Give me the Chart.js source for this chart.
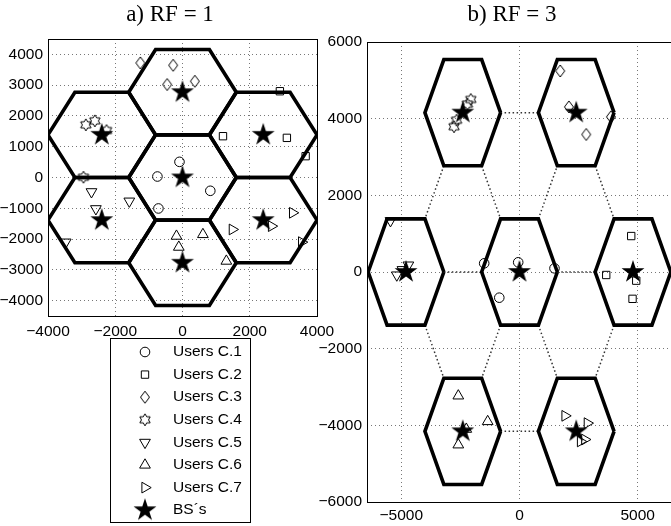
<!DOCTYPE html>
<html>
<head>
<meta charset="utf-8">
<title>RF = 1 / RF = 3</title>
<script src="https://cdn.jsdelivr.net/npm/chart.js@4.4.1/dist/chart.umd.min.js"></script>
<style>
  html, body { margin: 0; padding: 0; background: #fff; }
  body { width: 671px; height: 526px; overflow: hidden; position: relative; }
  canvas { position: absolute; top: 0; }
  #chart-rf1 { left: 0; }
  #chart-rf3 { left: 315px; }
</style>
</head>
<body>
<canvas id="chart-rf1" width="345" height="526"></canvas>
<canvas id="chart-rf3" width="400" height="526"></canvas>
<script>
/* ── data ── */
const legendLabels = ['Users C.1', 'Users C.2', 'Users C.3', 'Users C.4', 'Users C.5', 'Users C.6', 'Users C.7', 'BS\u00B4s'];
const hexRadius = 1600;

// RF = 1 : cell centres (= BS positions), in cluster order C.1 .. C.7
const rf1CellX = [0, 2400, 0, -2400, -2400, 0, 2400];
const rf1CellY = [0, 1386, 2771, 1386, -1386, -2771, -1386];
// RF = 1 : user positions, one row per cluster
const rf1UserX = [
  [-90, -746, 827, -716],
  [2896, 1204, 3104, 3662],
  [-1254, -278, -457, 367],
  [-2875, -2606, -2260, -2946],
  [-2707, -1582, -2576, -3472],
  [-179, 607, -110, 1304],
  [3274, 1482, 2647, 3543]
];
const rf1UserY = [
  [509, 32, -432, -1006],
  [2803, 1342, 1288, 693],
  [3724, 3646, 3020, 3127],
  [1711, 1841, 1526, 10],
  [-465, -769, -1017, -2100],
  [-1905, -1851, -2262, -2716],
  [-1147, -1688, -1580, -2100]
];

// RF = 3 : cell centres, cluster order C.1 .. C.7
const rf3CellX = [0, 4800, 2400, -2400, -4800, -2400, 2400];
const rf3CellY = [0, 0, 4157, 4157, 0, -4157, -4157];
const rf3UserX = [
  [-1494, -55, 1480, -855],
  [4725, 3668, 4937, 4781],
  [1722, 2089, 3866, 2822],
  [-2060, -2200, -2660, -2770],
  [-5457, -5190, -4700, -4950],
  [-2588, -1346, -2588, -2250],
  [1925, 2868, 2580, 2760]
];
const rf3UserY = [
  [226, 253, 96, -670],
  [938, -78, -226, -700],
  [5245, 4307, 4047, 3588],
  [4500, 4380, 3960, 3790],
  [1337, -80, 180, 60],
  [-3231, -3900, -4508, -4100],
  [-3752, -3943, -4420, -4370]
];
// dotted links between cells: [cellA, vertexA, cellB, vertexB]
// vertices: 0 right, 1 top-right, 2 top-left, 3 left, 4 bottom-left, 5 bottom-right
const rf3Links = [
  [0, 0, 1, 3], [4, 0, 0, 3], [3, 0, 2, 3], [5, 0, 6, 3],
  [3, 4, 4, 1], [3, 5, 0, 2], [0, 1, 2, 4], [2, 5, 1, 2],
  [4, 5, 5, 2], [0, 4, 5, 1], [0, 5, 6, 2], [1, 4, 6, 1]
];

// ticks
const rf1XTicks = [-4000, -2000, 0, 2000, 4000];
const rf1YTicks = [-4000, -3000, -2000, -1000, 0, 1000, 2000, 3000, 4000];
const rf3XTicks = [-5000, 0, 5000];
const rf3YTicks = [-6000, -4000, -2000, 0, 2000, 4000, 6000];

const SANS = '"Liberation Sans", Arial, Helvetica, sans-serif';
const SERIF = '"Liberation Serif", "Times New Roman", serif';
const TICK_SIZE = 15.5;

/* ── marker images for shapes Chart.js has no built-in for ── */
function makeMarker(size, draw) {
  const c = document.createElement('canvas');
  c.width = c.height = size;
  const g = c.getContext('2d');
  g.translate(size / 2, size / 2);
  draw(g);
  return c;
}
function starPath(g, n, rOut, rIn) {
  g.beginPath();
  for (let i = 0; i < n * 2; i++) {
    const r = i % 2 ? rIn : rOut;
    const a = -Math.PI / 2 + i * Math.PI / n;
    i ? g.lineTo(r * Math.cos(a), r * Math.sin(a)) : g.moveTo(r * Math.cos(a), r * Math.sin(a));
  }
  g.closePath();
}
const starImg = makeMarker(28, g => { starPath(g, 5, 12, 4.6); g.fillStyle = '#000'; g.fill(); });
const hexagramImg = makeMarker(16, g => { starPath(g, 6, 6, 3.5); g.strokeStyle = '#000'; g.lineWidth = 1; g.stroke(); });
const diamondImg = makeMarker(16, g => {
  g.beginPath(); g.moveTo(0, -6); g.lineTo(4.5, 0); g.lineTo(0, 6); g.lineTo(-4.5, 0); g.closePath();
  g.strokeStyle = '#000'; g.lineWidth = 1; g.stroke();
});

const markerStyles = [
  { style: 'circle', radius: 4.8, rotation: 0 },
  { style: 'rect', radius: 5.2, rotation: 0 },
  { style: diamondImg, radius: 6, rotation: 0 },
  { style: hexagramImg, radius: 6, rotation: 0 },
  { style: 'triangle', radius: 6.2, rotation: 180 },
  { style: 'triangle', radius: 6.2, rotation: 0 },
  { style: 'triangle', radius: 6.2, rotation: 90 },
  { style: starImg, radius: 12, rotation: 0 }
];

/* ── geometry helpers ── */
function hexVertex(cx, cy, k) {
  const h = hexRadius * Math.sqrt(3) / 2;
  const off = [[hexRadius, 0], [hexRadius / 2, h], [-hexRadius / 2, h], [-hexRadius, 0], [-hexRadius / 2, -h], [hexRadius / 2, -h]][k % 6];
  return { x: cx + off[0], y: cy + off[1] };
}
function hexPath(cx, cy) {
  return [0, 1, 2, 3, 4, 5, 6].map(k => hexVertex(cx, cy, k));
}

function buildDatasets(cellX, cellY, userX, userY, links) {
  const sets = [];
  cellX.forEach((cx, i) => sets.push({
    data: hexPath(cx, cellY[i]), showLine: true, pointRadius: 0,
    borderColor: '#000', borderWidth: 3.6, borderJoinStyle: 'miter', tension: 0, order: 2
  }));
  (links || []).forEach(([a, va, b, vb]) => sets.push({
    data: [hexVertex(cellX[a], cellY[a], va), hexVertex(cellX[b], cellY[b], vb)],
    showLine: true, pointRadius: 0, borderColor: '#333', borderWidth: 1.5, borderDash: [1.5, 2.5], order: 3
  }));
  userX.forEach((xs, k) => sets.push({
    label: legendLabels[k],
    data: xs.map((x, j) => ({ x, y: userY[k][j] })),
    showLine: false,
    pointStyle: markerStyles[k].style,
    pointRadius: markerStyles[k].radius,
    pointRotation: markerStyles[k].rotation,
    pointBorderColor: '#000',
    pointBackgroundColor: 'rgba(0,0,0,0)',
    pointBorderWidth: 1,
    order: 1
  }));
  sets.push({
    label: legendLabels[7],
    data: cellX.map((x, i) => ({ x, y: cellY[i] })),
    showLine: false, pointStyle: starImg, pointRadius: 12, order: 0
  });
  return sets;
}

const fmtTick = v => (v < 0 ? '\u2212' + Math.abs(v) : String(v));

function axis(min, max, ticks, size, isX, pad) {
  return {
    type: 'linear', min, max,
    afterBuildTicks: s => { s.ticks = ticks.map(v => ({ value: v })); },
    afterFit: s => { if (isX) s.height = size; else s.width = size; },
    ticks: { padding: pad, color: '#000', autoSkip: false, maxRotation: 0,
             font: { family: SANS, size: TICK_SIZE }, callback: fmtTick },
    grid: { color: '#777', lineWidth: 1, drawTicks: false },
    border: { display: false, dash: [1, 3] }
  };
}
// empty right-hand axis, only used to reserve room so the title sits where it should
function spacer(width) {
  return {
    type: 'linear', position: 'right', min: 0, max: 1,
    afterFit: s => { s.width = width; },
    ticks: { display: false },
    grid: { display: false, drawTicks: false },
    border: { display: false }
  };
}

/* ── box round the plot area ── */
const framePlugin = {
  id: 'frame',
  beforeDatasetsDraw(chart) {
    const { ctx, chartArea: a } = chart;
    ctx.save();
    ctx.strokeStyle = '#000';
    ctx.lineWidth = 1;
    ctx.strokeRect(Math.round(a.left) + 0.5, Math.round(a.top) + 0.5,
                   Math.round(a.right - a.left), Math.round(a.bottom - a.top));
    ctx.restore();
  }
};

/* ── framed legend under the RF = 1 panel ── */
const legendBoxPlugin = {
  id: 'legendBox',
  afterDraw(chart) {
    const ctx = chart.ctx;
    const box = { left: 110, top: 338, width: 140, height: 184 };
    ctx.save();
    ctx.strokeStyle = '#000';
    ctx.lineWidth = 1;
    ctx.strokeRect(box.left + 0.5, box.top + 0.5, box.width, box.height);
    ctx.font = TICK_SIZE + 'px ' + SANS;
    ctx.textBaseline = 'middle';
    legendLabels.forEach((label, i) => {
      const y = box.top + 14 + i * 22.6;
      const st = markerStyles[i];
      ctx.fillStyle = 'rgba(0,0,0,0)';
      ctx.strokeStyle = '#000';
      ctx.lineWidth = 1;
      Chart.helpers.drawPoint(ctx, { pointStyle: st.style, radius: st.radius, rotation: st.rotation, borderWidth: 1 }, 145, y);
      ctx.fillStyle = '#000';
      ctx.fillText(label, 173, y);
    });
    ctx.restore();
  }
};

function panelOptions(title, titleBottom, padding, xs, ys, rightRoom) {
  return {
    responsive: false,
    animation: false,
    events: [],
    layout: { padding },
    plugins: {
      legend: { display: false },
      tooltip: { enabled: false },
      title: {
        display: true, text: title, color: '#000',
        font: { family: SERIF, size: 23, weight: 'normal', lineHeight: 1.2 },
        padding: { top: 1, bottom: titleBottom }
      }
    },
    scales: { x: xs, y: ys, yRoom: spacer(rightRoom) }
  };
}

new Chart(document.getElementById('chart-rf1'), {
  type: 'scatter',
  data: { datasets: buildDatasets(rf1CellX, rf1CellY, rf1UserX, rf1UserY, null) },
  options: panelOptions('a) RF = 1', 10.4, { left: 0, right: 5, top: 0, bottom: 180 },
    axis(-4000, 4000, rf1XTicks, 30, true, 6),
    axis(-4500, 4500, rf1YTicks, 48, false, 5), 23),
  plugins: [framePlugin, legendBoxPlugin]
});

new Chart(document.getElementById('chart-rf3'), {
  type: 'scatter',
  data: { datasets: buildDatasets(rf3CellX, rf3CellY, rf3UserX, rf3UserY, rf3Links) },
  options: panelOptions('b) RF = 3', 13.4, { left: 0, right: 6, top: 0, bottom: 0 },
    axis(-6450, 6450, rf3XTicks, 24, true, 4),
    axis(-6000, 6000, rf3YTicks, 52, false, 5), 37),
  plugins: [framePlugin]
});
</script>
</body>
</html>
